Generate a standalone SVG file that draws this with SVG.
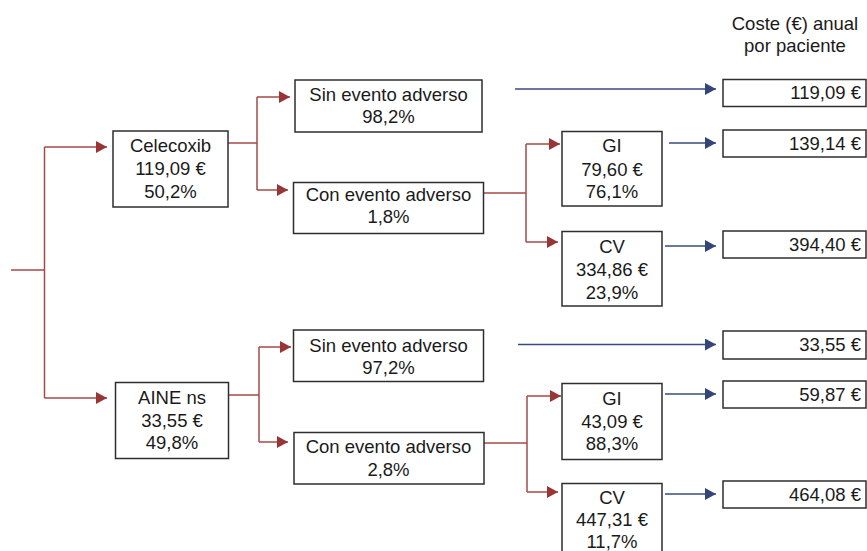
<svg xmlns="http://www.w3.org/2000/svg" width="867" height="551" viewBox="0 0 867 551">
<style>
text{font-family:"Liberation Sans",Arial,sans-serif;font-size:18.5px;fill:#1a1a1a;text-anchor:middle}
.v{text-anchor:end}
.box{fill:#fff;stroke:#2e2e2e;stroke-width:1.5}
.r{fill:none;stroke:#a54848;stroke-width:1.5}
.b{fill:none;stroke:#3b4a7c;stroke-width:1.5}
</style>
<defs>
<marker id="ar" markerUnits="userSpaceOnUse" markerWidth="12" markerHeight="13" refX="11" refY="6" orient="auto"><path d="M0,0 L11,6 L0,12 z" fill="#9a3535"/></marker>
<marker id="ab" markerUnits="userSpaceOnUse" markerWidth="12" markerHeight="13" refX="11" refY="6" orient="auto"><path d="M0,0 L11,6 L0,12 z" fill="#34457a"/></marker>
</defs>
<g id="connectors">
<path class="r" d="M11,270 H44.5"/>
<path class="r" d="M44.5,147 V398"/>
<path class="r" d="M44.5,147 H107" marker-end="url(#ar)"/>
<path class="r" d="M44.5,398 H107" marker-end="url(#ar)"/>
<path class="r" d="M228,143 H257"/>
<path class="r" d="M257,97 V190"/>
<path class="r" d="M257,97 H290" marker-end="url(#ar)"/>
<path class="r" d="M257,190 H288" marker-end="url(#ar)"/>
<path class="r" d="M484,193 H526"/>
<path class="r" d="M526,144 V242"/>
<path class="r" d="M526,144 H560" marker-end="url(#ar)"/>
<path class="r" d="M526,242 H558" marker-end="url(#ar)"/>
<path class="r" d="M228,395 H259"/>
<path class="r" d="M259,347 V442"/>
<path class="r" d="M259,347 H291" marker-end="url(#ar)"/>
<path class="r" d="M259,442 H288" marker-end="url(#ar)"/>
<path class="r" d="M484,443 H527"/>
<path class="r" d="M527,396 V492"/>
<path class="r" d="M527,396 H561" marker-end="url(#ar)"/>
<path class="r" d="M527,492 H558" marker-end="url(#ar)"/>
<path class="b" d="M515,89 H716" marker-end="url(#ab)"/>
<path class="b" d="M669,143 H716" marker-end="url(#ab)"/>
<path class="b" d="M665,246 H716" marker-end="url(#ab)"/>
<path class="b" d="M518,344.5 H716" marker-end="url(#ab)"/>
<path class="b" d="M665,394 H716" marker-end="url(#ab)"/>
<path class="b" d="M665,494 H716" marker-end="url(#ab)"/>
</g>
<g id="header"><text x="795" y="30">Coste (€) anual</text><text x="795" y="52">por paciente</text></g>
<g id="celecoxib"><rect class="box" x="113" y="131" width="115" height="76"/><text x="170.5" y="152">Celecoxib</text><text x="170.5" y="175">119,09 €</text><text x="170.5" y="198">50,2%</text></g>
<g id="sin1"><rect class="box" x="295" y="80" width="187" height="52"/><text x="388.5" y="101">Sin evento adverso</text><text x="388.5" y="123">98,2%</text></g>
<g id="con1"><rect class="box" x="293.5" y="182.5" width="190" height="51"/><text x="388.5" y="201">Con evento adverso</text><text x="388.5" y="223">1,8%</text></g>
<g id="gi1"><rect class="box" x="562" y="131.5" width="100" height="74.5"/><text x="612" y="152">GI</text><text x="612" y="176">79,60 €</text><text x="612" y="198">76,1%</text></g>
<g id="cv1"><rect class="box" x="562" y="231.5" width="100" height="74.5"/><text x="612" y="253">CV</text><text x="612" y="276">334,86 €</text><text x="612" y="299">23,9%</text></g>
<g id="c1"><rect class="box" x="723" y="79.5" width="143" height="27"/><text class="v" x="861" y="99">119,09 €</text></g>
<g id="c2"><rect class="box" x="723" y="130" width="143" height="27"/><text class="v" x="861" y="150">139,14 €</text></g>
<g id="c3"><rect class="box" x="723" y="231" width="143" height="27"/><text class="v" x="861" y="251">394,40 €</text></g>
<g id="aine"><rect class="box" x="115.5" y="382.5" width="113" height="76"/><text x="172" y="404">AINE ns</text><text x="172" y="427">33,55 €</text><text x="172" y="449">49,8%</text></g>
<g id="sin2"><rect class="box" x="293.5" y="330" width="190" height="51.5"/><text x="388.5" y="352">Sin evento adverso</text><text x="388.5" y="374">97,2%</text></g>
<g id="con2"><rect class="box" x="294" y="432.5" width="190" height="51.5"/><text x="388.5" y="453">Con evento adverso</text><text x="388.5" y="476">2,8%</text></g>
<g id="gi2"><rect class="box" x="562" y="383.5" width="100" height="76"/><text x="612" y="405">GI</text><text x="612" y="428">43,09 €</text><text x="612" y="450">88,3%</text></g>
<g id="cv2"><rect class="box" x="562" y="483.5" width="100" height="80"/><text x="612" y="504">CV</text><text x="612" y="526">447,31 €</text><text x="612" y="548">11,7%</text></g>
<g id="c4"><rect class="box" x="723" y="331" width="143" height="28"/><text class="v" x="861" y="351">33,55 €</text></g>
<g id="c5"><rect class="box" x="723" y="381" width="143" height="27"/><text class="v" x="861" y="401">59,87 €</text></g>
<g id="c6"><rect class="box" x="723" y="481" width="143" height="27"/><text class="v" x="861" y="501">464,08 €</text></g>
</svg>
